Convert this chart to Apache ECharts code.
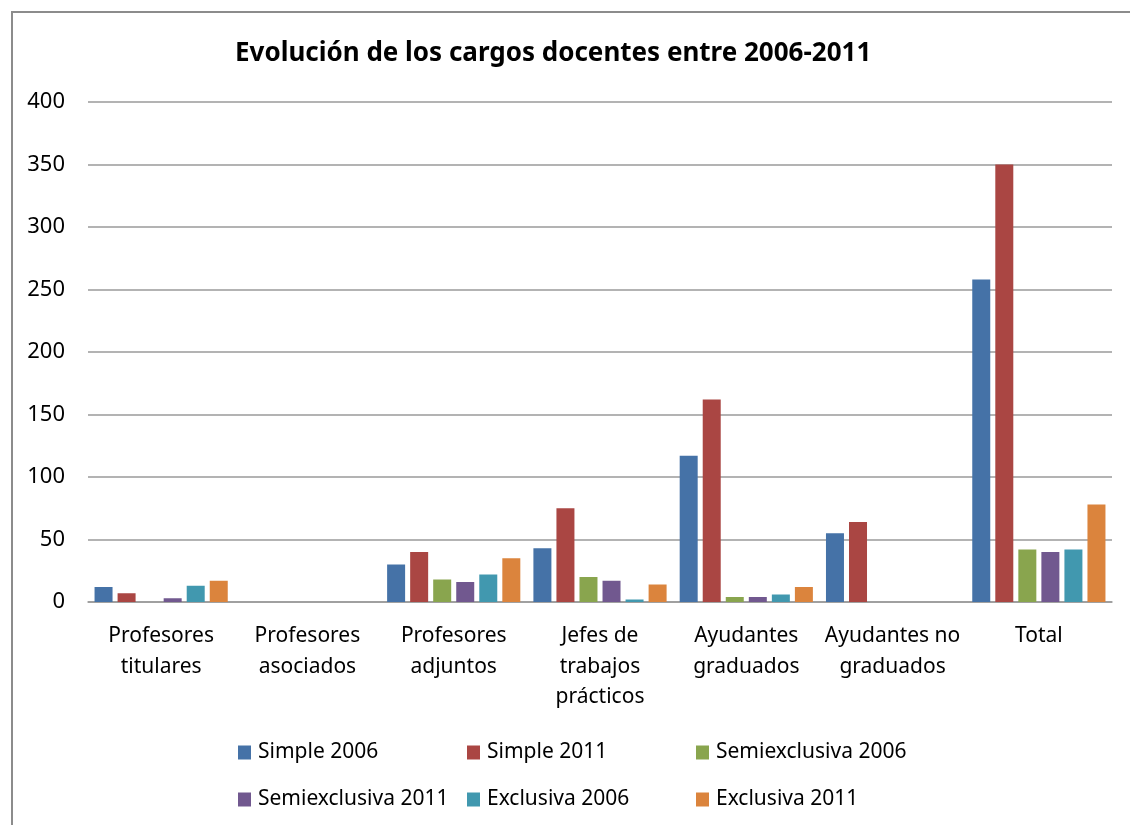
<!DOCTYPE html>
<html>
<head>
<meta charset="utf-8">
<title>Evolución de los cargos docentes</title>
<script src="https://cdn.jsdelivr.net/npm/echarts@6/dist/echarts.min.js"></script>
<style>
  html, body { margin: 0; padding: 0; background: #fff; }
  #chart { width: 1130px; height: 825px; }
</style>
</head>
<body>
<div id="chart"></div>
<script>
// datos
var categorias = ['Profesores\ntitulares', 'Profesores\nasociados', 'Profesores\nadjuntos',
  'Jefes de\ntrabajos\nprácticos', 'Ayudantes\ngraduados', 'Ayudantes no\ngraduados', 'Total'];
var series_nombres = ['Simple 2006', 'Simple 2011', 'Semiexclusiva 2006',
  'Semiexclusiva 2011', 'Exclusiva 2006', 'Exclusiva 2011'];
var simple2006 = [12, 0, 30, 43, 117, 55, 258];
var simple2011 = [7, 0, 40, 75, 162, 64, 350];
var semi2006 = [0, 0, 18, 20, 4, 0, 42];
var semi2011 = [3, 0, 16, 17, 4, 0, 40];
var excl2006 = [13, 0, 22, 2, 6, 0, 42];
var excl2011 = [17, 0, 35, 14, 12, 0, 78];
var yTicks = [0, 50, 100, 150, 200, 250, 300, 350, 400];

var colores = ['#4572A7', '#AA4643', '#89A54E', '#71588F', '#4198AF', '#DB843D'];
var valores = [simple2006, simple2011, semi2006, semi2011, excl2006, excl2011];

var chart = echarts.init(document.getElementById('chart'));

// leyenda en dos filas, tres columnas (como en Excel)
var legendPos = [[238, 742], [467, 742], [696, 742], [238, 789], [467, 789], [696, 789]];
var legends = series_nombres.map(function (n, i) {
  return {
    left: legendPos[i][0],
    top: legendPos[i][1],
    padding: 0,
    data: [n],
    icon: 'rect',
    itemWidth: 13,
    itemHeight: 14,
    textStyle: { fontFamily: 'Noto Sans', fontSize: 21, color: '#000', padding: [0, 0, 0, 2] }
  };
});

var series = series_nombres.map(function (n, i) {
  return {
    name: n,
    type: 'bar',
    data: valores[i],
    barWidth: 18,
    barGap: '28%',
    itemStyle: { color: colores[i] }
  };
});

chart.setOption({
  animation: false,
  title: {
    text: 'Evolución de los cargos docentes entre 2006-2011',
    left: 230,
    top: 36,
    textStyle: { fontFamily: 'Noto Sans', fontWeight: 'bold', fontSize: 26, color: '#000' }
  },
  legend: legends,
  grid: { left: 88, right: 18, top: 102, bottom: 223 },
  xAxis: {
    type: 'category',
    data: categorias,
    axisLine: { lineStyle: { color: '#9a9a9a', width: 1.5 } },
    axisTick: { show: false },
    axisLabel: {
      fontFamily: 'Noto Sans', fontSize: 21, color: '#000', lineHeight: 30.5, margin: 19, interval: 0
    }
  },
  yAxis: {
    type: 'value',
    min: 0,
    max: yTicks[yTicks.length - 1],
    interval: 50,
    axisLine: { show: false },
    axisTick: { show: false },
    splitLine: { lineStyle: { color: '#9a9a9a', width: 1.5 } },
    axisLabel: { fontFamily: 'Noto Sans', fontSize: 22, color: '#000', margin: 23 }
  },
  graphic: [{
    type: 'polyline',
    shape: { points: [[12, 825], [12, 12], [1130, 12]] },
    style: { stroke: '#8c8c8c', lineWidth: 2, fill: null }
  }],
  series: series
});
</script>
</body>
</html>
